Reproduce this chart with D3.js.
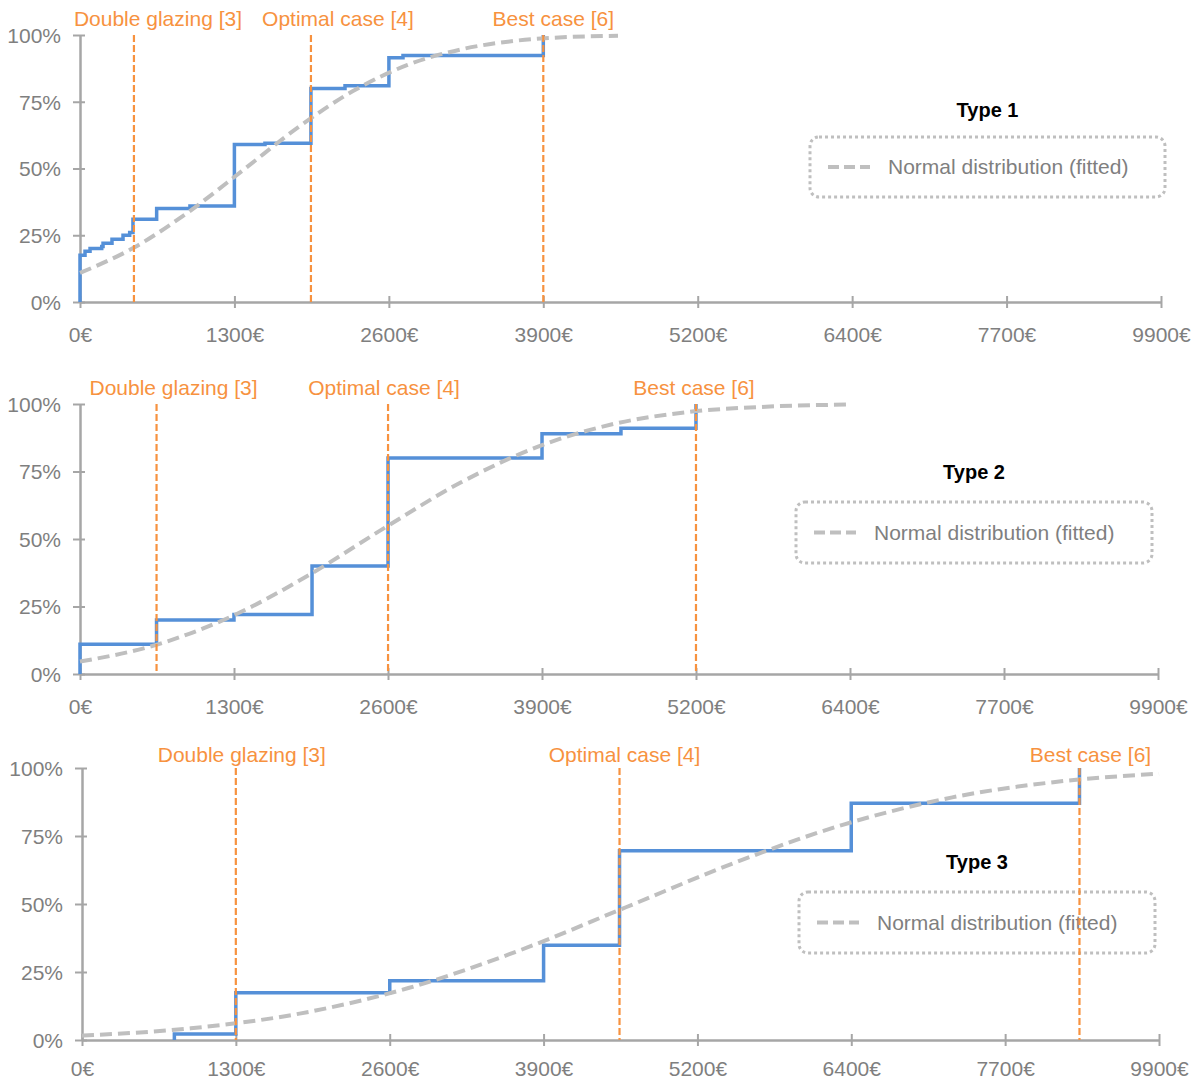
<!DOCTYPE html>
<html>
<head>
<meta charset="utf-8">
<script src="https://cdn.jsdelivr.net/npm/d3@7"></script>
<style>
  body { margin: 0; background: #fff; }
  svg { display: block; font-family: "Liberation Sans", Arial, sans-serif; }
</style>
</head>
<body>
<svg id="chart"></svg>
<script>
// ---- data (cost in €, cumulative share in %) ----
const xMax = 9900;
const xTickLabels = ["0€", "1300€", "2600€", "3900€", "5200€", "6400€", "7700€", "9900€"];
const yTickValues = [0, 25, 50, 75, 100];
const markerNames = ["Double glazing [3]", "Optimal case [4]", "Best case [6]"];
const panelTitles = ["Type 1", "Type 2", "Type 3"];
const legendLabel = "Normal distribution (fitted)";

const type1Steps = [[0, 0], [0, 17.5], [46, 19], [92, 20], [199, 20.8], [211, 22], [293, 23.5],
  [394, 25], [455, 26], [485, 31], [702, 35], [1007, 36], [1414, 59], [1694, 59.5],
  [2115, 80], [2427, 81], [2829, 91.5], [2958, 92.3], [4243, 92.3], [4243, 100]];
const type1Normal = [[0, 10.9], [500, 20.5], [1000, 33.9], [1500, 49.6], [2000, 65.5], [2500, 79],
  [3000, 88.8], [3500, 94.7], [4000, 97.9], [4500, 99.3], [4927, 99.7]];
const type1Markers = [494, 2115, 4243];

const type2Steps = [[0, 0], [0, 11], [703, 20], [1414, 22], [2131, 40], [2829, 80], [4243, 89],
  [4968, 91], [5657, 91], [5657, 100]];
const type2Normal = [[0, 4.6], [700, 10.8], [1400, 21.5], [2100, 36.6], [2800, 54.2], [3500, 71],
  [4200, 84.1], [4900, 92.6], [5600, 97.1], [6300, 99], [7071, 99.8]];
const type2Markers = [703, 2829, 5657];

const type3Steps = [[849, 0], [849, 2.2], [1414, 17.4], [2829, 21.8], [4243, 34.8], [4941, 69.6],
  [7071, 87], [9169, 87], [9169, 100]];
const type3Normal = [[0, 1.6], [1000, 4.3], [2000, 9.7], [3000, 19.1], [4000, 32.6], [5000, 48.8],
  [6000, 65.2], [7000, 79.2], [8000, 89.2], [9000, 95.1], [9900, 97.9]];
const type3Markers = [1414, 4941, 9169];

// ---- layout ----
const width = 1204, height = 1084;
const panels = [
  { steps: type1Steps, normal: type1Normal, markers: type1Markers, title: panelTitles[0],
    left: 80, right: 1161, top: 35, bottom: 302, xLabelY: 33, markLabelY: -16,
    labelDx: [24, 27, 10], legend: { x: 810, y: 137, w: 355, h: 60 }, titleY: 110 },
  { steps: type2Steps, normal: type2Normal, markers: type2Markers, title: panelTitles[1],
    left: 80, right: 1158, top: 404, bottom: 674, xLabelY: 33, markLabelY: -16,
    labelDx: [17, -4, -2], legend: { x: 796, y: 502, w: 356, h: 61 }, titleY: 472 },
  { steps: type3Steps, normal: type3Normal, markers: type3Markers, title: panelTitles[2],
    left: 82, right: 1159, top: 768, bottom: 1040, xLabelY: 29, markLabelY: -13,
    labelDx: [6, 5, 11], legend: { x: 799, y: 892, w: 356, h: 61 }, titleY: 862 }
];

const axisColor = "#a6a6a6";
const textColor = "#7f7f7f";
const orange = "#f7923f";
const blue = "#5590d8";
const gray = "#bfbfbf";

const svg = d3.select("#chart").attr("width", width).attr("height", height);

panels.forEach((p) => {
  const x = d3.scaleLinear().domain([0, xMax]).range([p.left, p.right]);
  const y = d3.scaleLinear().domain([0, 100]).range([p.bottom, p.top]);
  const g = svg.append("g");

  // x axis
  const xAxis = d3.axisBottom(x)
    .tickValues(d3.range(xTickLabels.length).map((i) => i * xMax / (xTickLabels.length - 1)))
    .tickFormat((d, i) => xTickLabels[i])
    .tickSizeOuter(0);
  const gx = g.append("g").attr("transform", `translate(0,${p.bottom})`).call(xAxis);
  gx.select(".domain").attr("stroke", axisColor).attr("stroke-width", 2.5);
  gx.selectAll(".tick line").attr("stroke", axisColor).attr("stroke-width", 2).attr("y1", -6).attr("y2", 6);
  gx.selectAll(".tick text").attr("fill", textColor).attr("font-size", 21)
    .attr("y", p.xLabelY).attr("dy", "0.35em");

  // y axis
  const yAxis = d3.axisLeft(y).tickValues(yTickValues).tickFormat((d) => d + "%").tickSizeOuter(0);
  const gy = g.append("g").attr("transform", `translate(${p.left},0)`).call(yAxis);
  gy.select(".domain").attr("stroke", axisColor).attr("stroke-width", 2.5);
  gy.selectAll(".tick line").attr("stroke", axisColor).attr("stroke-width", 2).attr("x1", -7).attr("x2", 5);
  gy.selectAll(".tick text").attr("fill", textColor).attr("font-size", 21)
    .attr("x", -19).attr("dy", "0.35em");
  g.selectAll(".tick text").attr("font-family", "'Liberation Sans', Arial, sans-serif");

  // legend box + title
  const lg = p.legend;
  g.append("rect")
    .attr("x", lg.x).attr("y", lg.y).attr("width", lg.w).attr("height", lg.h)
    .attr("rx", 9).attr("fill", "none")
    .attr("stroke", gray).attr("stroke-width", 3).attr("stroke-dasharray", "3 3");
  g.append("line")
    .attr("x1", lg.x + 18).attr("x2", lg.x + 60)
    .attr("y1", lg.y + lg.h / 2).attr("y2", lg.y + lg.h / 2)
    .attr("stroke", gray).attr("stroke-width", 4).attr("stroke-dasharray", "11 5");
  g.append("text")
    .attr("x", lg.x + 78).attr("y", lg.y + lg.h / 2).attr("dy", "0.35em")
    .attr("fill", textColor).attr("font-size", 21)
    .text(legendLabel);
  g.append("text")
    .attr("x", lg.x + lg.w / 2).attr("y", p.titleY).attr("dy", "0.35em")
    .attr("text-anchor", "middle").attr("font-weight", "bold").attr("font-size", 20)
    .attr("fill", "#000")
    .text(p.title);

  // empirical steps
  const stepLine = d3.line()
    .x((d) => x(d[0])).y((d) => y(d[1]))
    .curve(d3.curveStepAfter);
  g.append("path")
    .datum(p.steps)
    .attr("d", stepLine)
    .attr("fill", "none").attr("stroke", blue).attr("stroke-width", 3.5);

  // fitted normal
  const normLine = d3.line()
    .x((d) => x(d[0])).y((d) => y(d[1]))
    .curve(d3.curveMonotoneX);
  g.append("path")
    .datum(p.normal)
    .attr("d", normLine)
    .attr("fill", "none").attr("stroke", gray).attr("stroke-width", 4)
    .attr("stroke-dasharray", "12 6");

  // marker lines + labels
  p.markers.forEach((m, i) => {
    g.append("line")
      .attr("x1", x(m)).attr("x2", x(m))
      .attr("y1", p.top).attr("y2", p.bottom)
      .attr("stroke", orange).attr("stroke-width", 2.2).attr("stroke-dasharray", "7 3");
    g.append("text")
      .attr("x", x(m) + p.labelDx[i]).attr("y", p.top + p.markLabelY).attr("dy", "0.35em")
      .attr("text-anchor", "middle").attr("fill", orange).attr("font-size", 21)
      .text(markerNames[i]);
  });
});
</script>
</body>
</html>
